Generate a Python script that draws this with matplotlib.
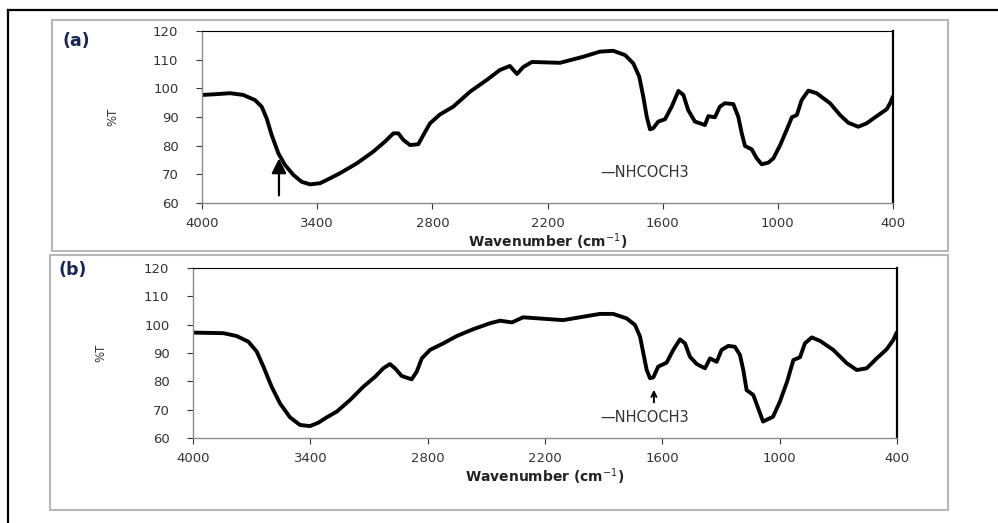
import numpy as np
import matplotlib
matplotlib.use("Agg")
import matplotlib.pyplot as plt
from matplotlib.patches import Rectangle
from matplotlib.lines import Line2D

# spectrum (a): wavenumber (cm-1) vs %T
wn_a = [4000, 3941, 3854, 3785, 3724, 3689, 3663, 3637, 3602, 3568, 3524, 3481,
        3437, 3385, 3333, 3281, 3194, 3108, 3047, 3003, 2977, 2951, 2916, 2873,
        2847, 2812, 2760, 2691, 2604, 2517, 2448, 2396, 2359, 2327, 2281, 2135,
        2015, 1927, 1858, 1796, 1753, 1722, 1701, 1683, 1666, 1649, 1623, 1588,
        1553, 1518, 1492, 1467, 1432, 1406, 1380, 1362, 1328, 1302, 1276, 1232,
        1206, 1188, 1171, 1136, 1110, 1084, 1049, 1023, 988, 954, 927, 901, 876,
        841, 798, 728, 676, 633, 581, 537, 485, 433, 415, 401]
t_a = [97.7, 97.9, 98.3, 97.7, 95.9, 93.6, 89.5, 83.7, 77.3, 73.3, 69.8, 67.4,
       66.5, 66.9, 68.6, 70.4, 73.8, 77.9, 81.4, 84.3, 84.3, 82.0, 80.2, 80.5,
       83.7, 87.8, 90.9, 93.6, 98.8, 102.9, 106.4, 107.8, 105.0, 107.4, 109.2, 108.9,
       111.0, 112.8, 113.1, 111.6, 108.7, 104.1, 97.1, 90.1, 85.7, 86.1, 88.4, 89.2,
       93.6, 99.1, 97.7, 92.4, 88.4, 87.8, 87.2, 90.3, 89.9, 93.6, 94.8, 94.5,
       90.1, 84.3, 79.9, 78.7, 75.6, 73.5, 74.1, 75.6, 80.2, 85.5, 89.9, 90.7, 95.9,
       99.2, 98.3, 94.8, 90.7, 88.0, 86.6, 87.8, 90.3, 92.7, 94.8, 97.1]

# spectrum (b)
wn_b = [4000, 3845, 3777, 3717, 3674, 3640, 3598, 3555, 3504, 3453, 3402, 3359,
        3316, 3265, 3197, 3129, 3069, 3027, 2993, 2967, 2933, 2882, 2856, 2830,
        2788, 2720, 2651, 2567, 2481, 2430, 2369, 2312, 2108, 1919, 1851, 1782,
        1740, 1714, 1697, 1680, 1663, 1646, 1621, 1578, 1544, 1510, 1484, 1459,
        1424, 1382, 1356, 1322, 1297, 1263, 1229, 1203, 1186, 1169, 1135, 1085,
        1034, 999, 962, 930, 896, 871, 836, 794, 726, 657, 606, 555, 504, 453,
        419, 402]
t_b = [97.2, 97.0, 96.0, 94.0, 90.5, 85.2, 78.1, 72.2, 67.3, 64.6, 64.2, 65.4,
       67.3, 69.3, 73.4, 78.1, 81.6, 84.6, 86.1, 84.6, 81.9, 80.7, 83.4, 88.1,
       91.1, 93.4, 96.0, 98.4, 100.5, 101.4, 100.8, 102.6, 101.6, 103.8, 103.8, 102.2,
       99.9, 95.8, 89.9, 84.0, 81.1, 81.4, 85.2, 86.6, 91.1, 94.8, 93.4, 88.7,
       86.1, 84.6, 88.1, 86.9, 91.1, 92.5, 92.2, 89.3, 84.0, 76.9, 75.2, 65.8,
       67.5, 72.8, 79.9, 87.5, 88.5, 93.4, 95.5, 94.3, 91.1, 86.4, 84.0, 84.6, 88.1, 91.3,
       94.6, 97.2]

x_ticks = [4000, 3400, 2800, 2200, 1600, 1000, 400]
y_ticks = [60, 70, 80, 90, 100, 110, 120]
label_text = "\u2014NHCOCH3"

W, H = 998, 523
fig = plt.figure(figsize=(W / 100, H / 100), dpi=100)


def frac(x0, y0, x1, y1):
    # pixel box (top-left origin) -> figure fraction rect
    return [x0 / W, 1 - y1 / H, (x1 - x0) / W, (y1 - y0) / H]


# page frame lines and the grey boxes around each panel
fig.add_artist(Line2D([8 / W, 1], [1 - 10 / H] * 2, color="black", lw=1.6))
fig.add_artist(Line2D([8 / W] * 2, [0, 1 - 10 / H], color="black", lw=1.6))
for box in [(52, 20, 948, 251), (50, 255, 948, 510)]:
    r = frac(*box)
    fig.add_artist(Rectangle((r[0], r[1]), r[2], r[3], transform=fig.transFigure,
                             fill=False, edgecolor="#b8b8b8", lw=1.5))


def spectrum(rect, wn, t, tag, tag_xy, ylab_x):
    ax = fig.add_axes(rect)
    ax.plot(wn, t, color="black", lw=2.8, solid_joinstyle="round",
            solid_capstyle="round")
    ax.set_xlim(4000, 400)
    ax.set_ylim(60, 120)
    ax.set_xticks(x_ticks)
    ax.set_yticks(y_ticks)
    ax.tick_params(axis="both", labelsize=9.5, colors="#333333", length=4,
                   width=0.8, direction="out")
    ax.tick_params(axis="x", pad=6)
    ax.tick_params(axis="y", pad=13)
    for s in ["left", "bottom"]:
        ax.spines[s].set_color("#8a8a8a")
        ax.spines[s].set_linewidth(1.0)
    ax.spines["top"].set_color("black")
    ax.spines["top"].set_linewidth(0.8)
    ax.spines["right"].set_color("black")
    ax.spines["right"].set_linewidth(1.6)
    ax.set_ylabel("%T", fontsize=8.5, color="#333333")
    ax.yaxis.set_label_coords(ylab_x, 0.5)
    ax.set_xlabel("Wavenumber (cm$^{-1}$)", fontsize=10, fontweight="bold",
                  color="#222222", labelpad=1)
    fig.text(tag_xy[0] / W, 1 - tag_xy[1] / H, tag, fontsize=12.5,
             fontweight="bold", color="#1c2452", va="center")
    return ax


ax_a = spectrum(frac(202, 31, 893, 203), wn_a, t_a, "(a)", (62, 41), -0.119)
ax_b = spectrum(frac(193, 268, 897, 438), wn_b, t_b, "(b)", (58, 270), -0.121)

ax_a.annotate("", xy=(3599, 76.5), xytext=(3599, 61.7),
              arrowprops=dict(arrowstyle="-|>", color="black", lw=1.6,
                              mutation_scale=22))
ax_a.text(1692, 70.8, label_text, fontsize=10.5, color="#333333",
          ha="center", va="center")

ax_b.annotate("", xy=(1643, 78), xytext=(1643, 71.6),
              arrowprops=dict(arrowstyle="->", color="black", lw=1.4,
                              mutation_scale=9))
ax_b.text(1689, 67.4, label_text, fontsize=10.5, color="#333333",
          ha="center", va="center")

fig.savefig("out.png", dpi=100)
